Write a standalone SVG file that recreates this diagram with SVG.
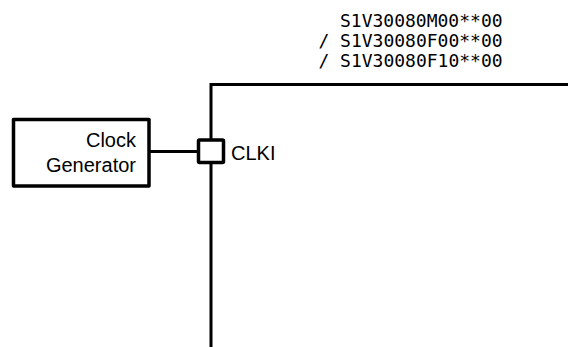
<svg xmlns="http://www.w3.org/2000/svg" width="568" height="347" viewBox="0 0 568 347">
<style>
.ln{fill:none;stroke:#000;stroke-width:3}
.bx{fill:#fff;stroke:#000;stroke-width:3.5;stroke-linejoin:round}
.t{font-family:"Liberation Sans",Arial,sans-serif;font-size:20px;fill:#000}
.m{font-family:"DejaVu Sans Mono","Liberation Mono",monospace;font-size:18px;fill:#000}
</style>
<rect width="568" height="347" fill="#fff"/>
<g id="chip">
<path class="ln" d="M211,347 V84.5 H568"/>
<text class="m" x="340" y="27">S1V30080M00**00</text>
<text class="m" x="318.4" y="47">/ S1V30080F00**00</text>
<text class="m" x="318.4" y="67">/ S1V30080F10**00</text>
</g>
<g id="connectors">
<line class="ln" x1="149" y1="151.5" x2="199" y2="151.5" stroke-width="2.5"/>
</g>
<g id="clock-generator">
<rect class="bx" x="13.5" y="119.5" width="135.5" height="66.5"/>
<text class="t" x="136" y="147" text-anchor="end">Clock</text>
<text class="t" x="136" y="172" text-anchor="end">Generator</text>
</g>
<g id="clki">
<rect class="bx" x="198.5" y="140" width="25" height="22.5" rx="1"/>
<text class="t" x="231" y="160">CLKI</text>
</g>
</svg>
